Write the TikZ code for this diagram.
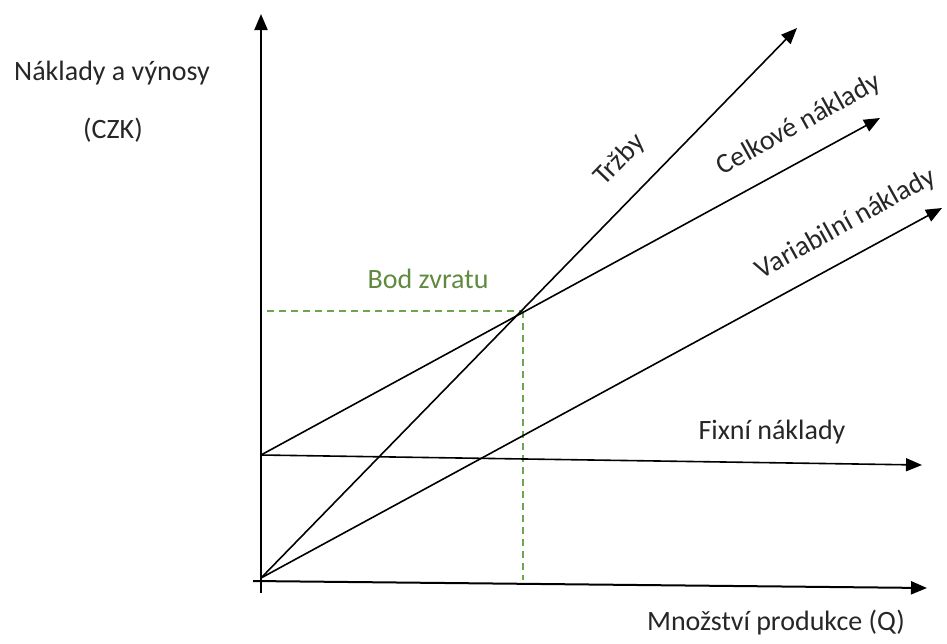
\documentclass[tikz,border=0pt]{standalone}
\usepackage{fontspec}
\setmainfont{Carlito}
\usetikzlibrary{arrows.meta}
\definecolor{bzgreen}{RGB}{96,138,64}
\definecolor{dashgreen}{RGB}{110,165,80}
\tikzset{
  axisline/.style={line width=2pt, -{Triangle[length=16pt,width=13pt]}},
  curve/.style={line width=1.6pt, -{Triangle[length=16pt,width=13pt]}},
  helper/.style={line width=1.1pt, dashgreen, dash pattern=on 7pt off 5pt},
  lbl/.style={font=\fontsize{28}{33}\selectfont, text=black!85, inner sep=0pt},
}
\begin{document}
\begin{tikzpicture}[x=1pt,y=-1pt]
\useasboundingbox (0,0) rectangle (947,643);
% coordinates
\coordinate (O) at (261,578);
\coordinate (ybot) at (261,593);
\coordinate (ytop) at (261,14);
\coordinate (xl) at (253,581);
\coordinate (xr) at (927,588);
\coordinate (F) at (261,455);
\coordinate (Fr) at (922,465);
\coordinate (Tr) at (797,28);
\coordinate (Cr) at (880,118);
\coordinate (Vr) at (942,208);
\coordinate (BZ) at (523,311);
\coordinate (BZl) at (267,311);
\coordinate (BZb) at (523,580);
% helper dashed lines
\draw[helper] (BZl) -- (BZ);
\draw[helper] (BZ) -- (BZb);
% axes
\draw[axisline] (ybot) -- (ytop);
\draw[axisline] (xl) -- (xr);
% lines
\draw[curve] (F) -- (Fr);
\draw[curve] (O) -- (Tr);
\draw[curve] (F) -- (Cr);
\draw[curve] (O) -- (Vr);
% labels
\node[lbl] (ny) at (112,73) {Náklady a výnosy};
\node[lbl] (czk) at (113,130) {(CZK)};
\node[lbl] (q) at (776,623) {Množství produkce (Q)};
\node[lbl] (fix) at (772,432) {Fixní náklady};
\node[lbl, text=bzgreen] (bz) at (428,279) {Bod zvratu};
\node[lbl, rotate=46] (trz) at (620,160) {Tržby};
\node[lbl, rotate=29] (cel) at (799,125) {Celkové náklady};
\node[lbl, rotate=29] (var) at (846,224) {Variabilní náklady};
\end{tikzpicture}
\end{document}
